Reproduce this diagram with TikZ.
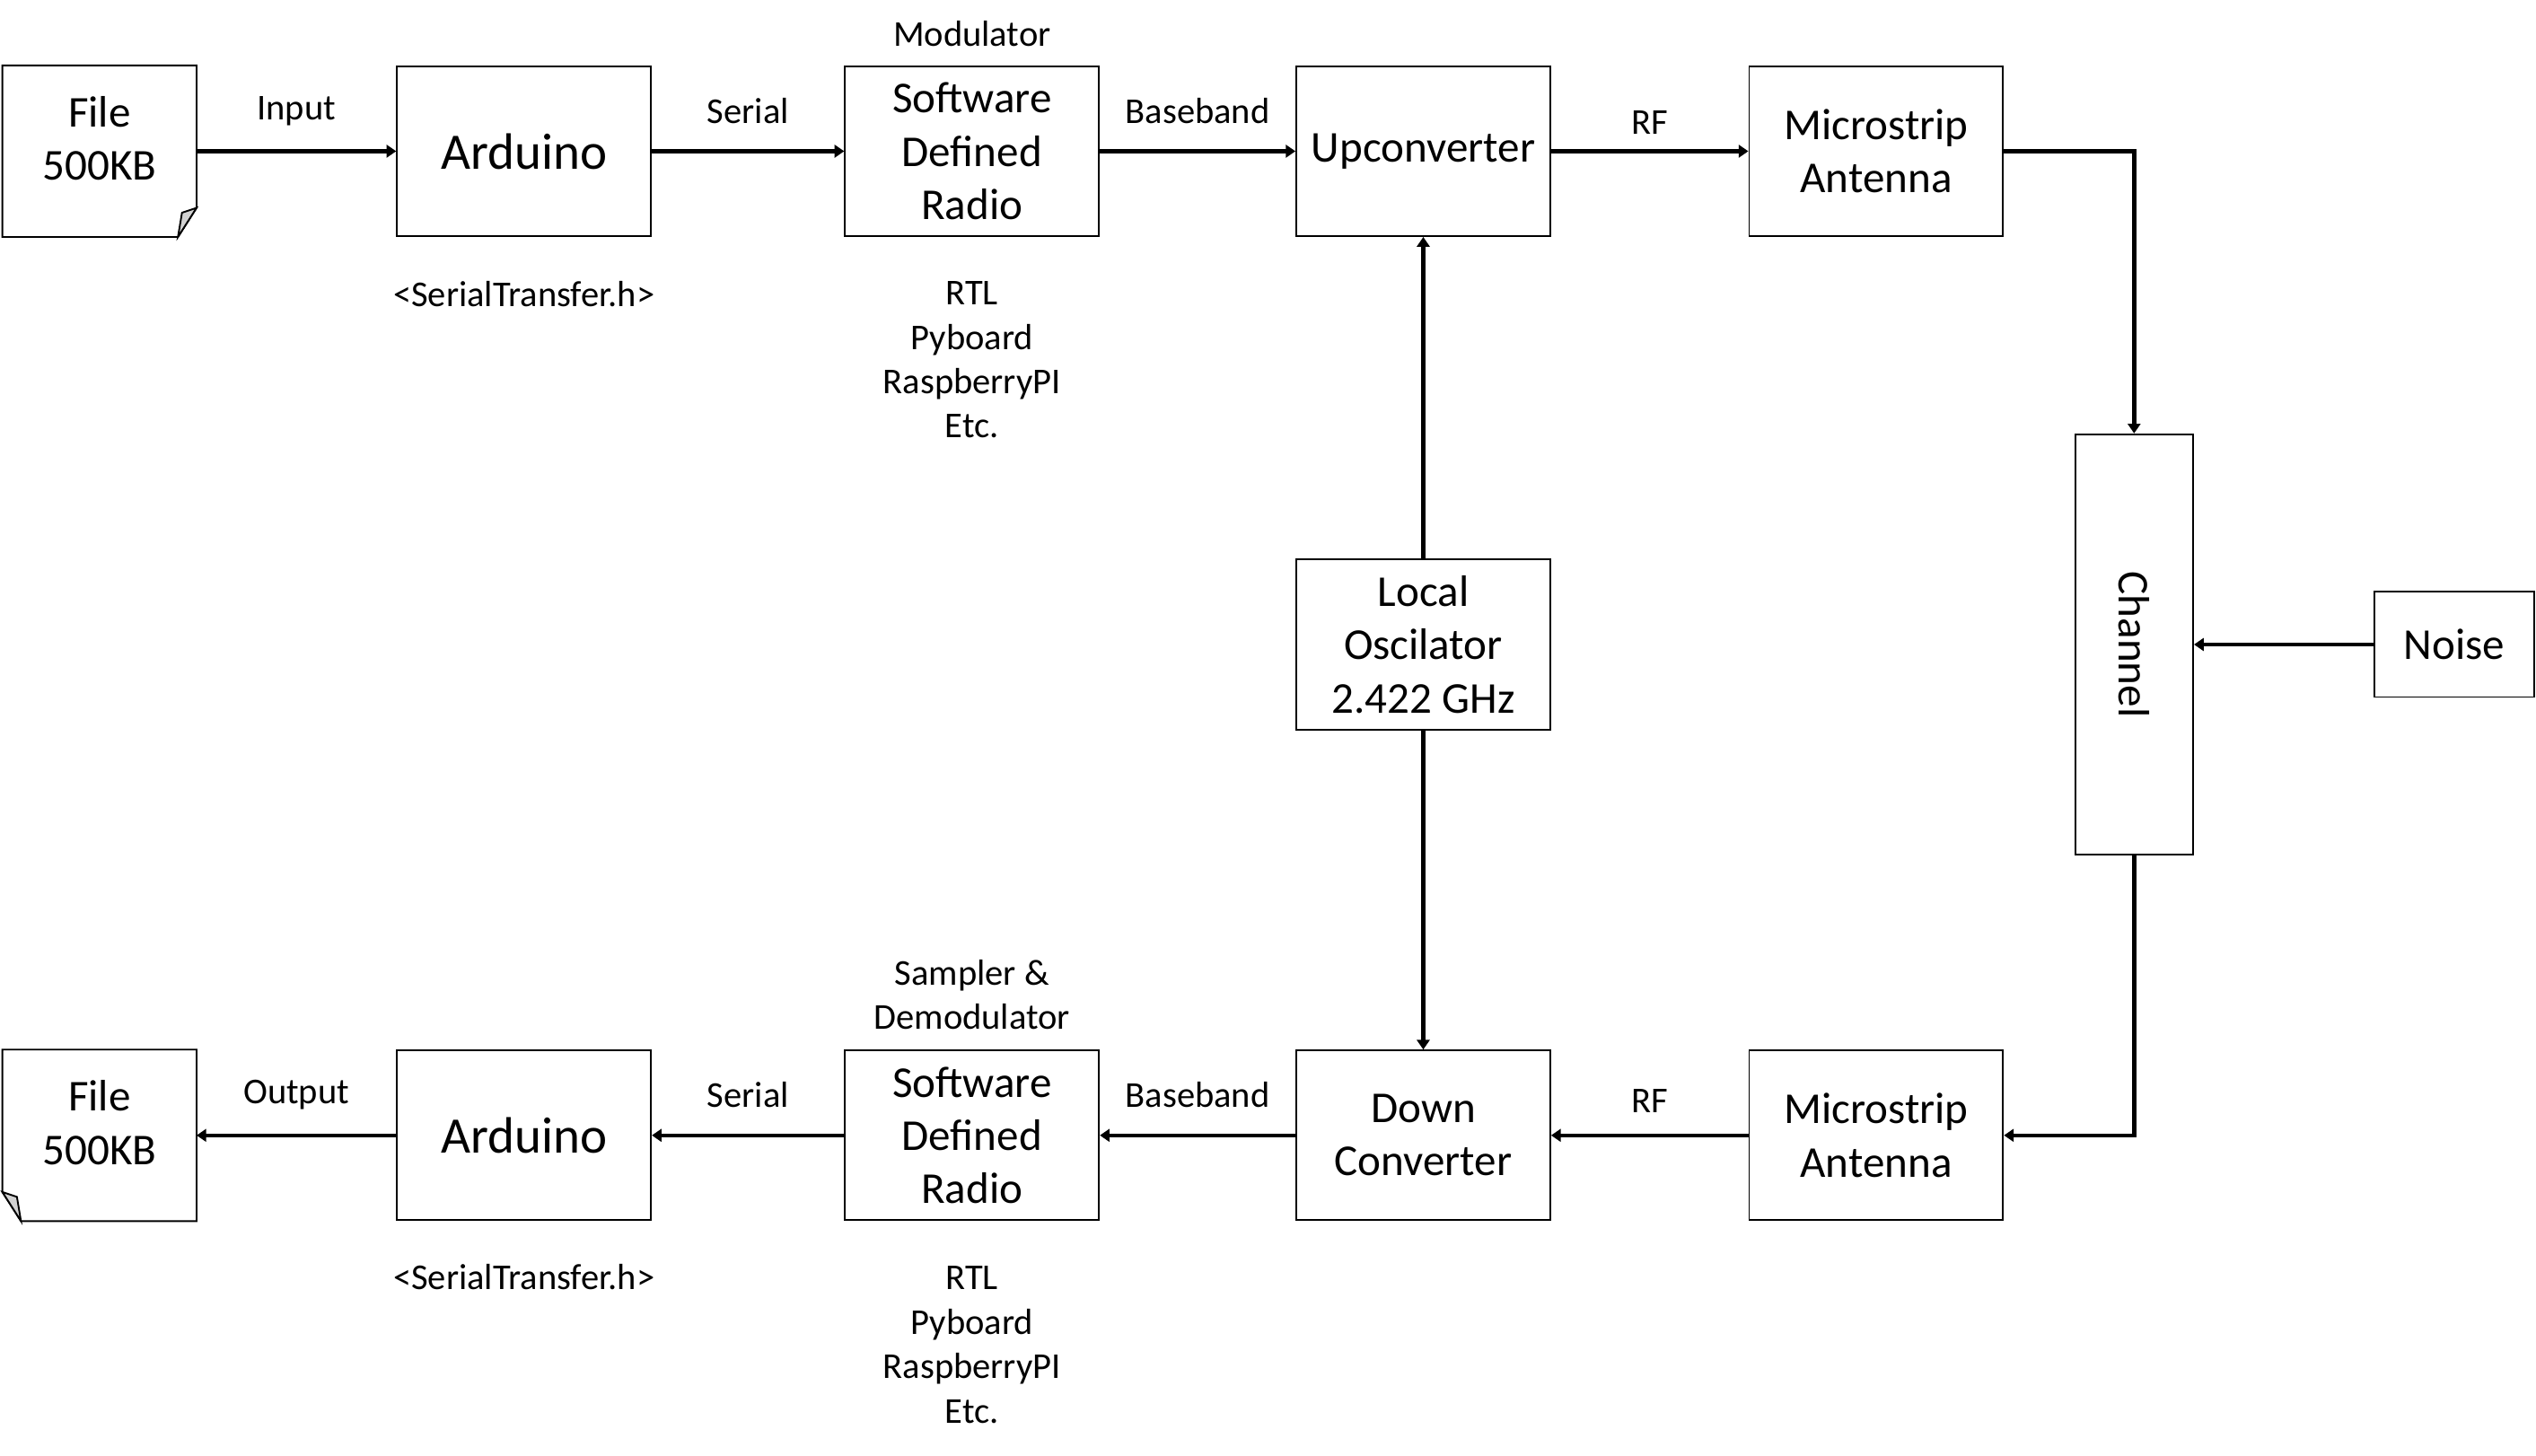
\documentclass[tikz,border=0pt]{standalone}
\usepackage{fontspec}
\setmainfont{Carlito}
\usetikzlibrary{positioning,arrows.meta}

\begin{document}
\begin{tikzpicture}[on grid,
   >={Triangle[length=3.4pt,width=4.4pt]},
   block/.style={draw,line width=0.6pt,minimum width=3.14cm,minimum height=2.1cm,
                 align=center,font=\fontsize{15.5}{18.7}\selectfont},
   big/.style={font=\fontsize{18}{21.6}\selectfont},
   doc/.style={block,draw=none,minimum width=2.38cm,text depth=0.32cm},
   lbl/.style={align=center,font=\fontsize{12.8}{15.6}\selectfont},
   above label/.style={lbl,yshift=0.5cm},
   wire/.style={line width=1.4pt}]
   \useasboundingbox (0,0) rectangle (31.36,-18);
   % transmitter chain
   \node[doc] (file) at (1.23,-1.87) {File\\500KB};
   \node[block,big] (ard) [right=5.25 of file] {Arduino};
   \node[block] (sdr) [right=5.54 of ard] {Software\\Defined\\Radio};
   \node[block] (up) [right=5.58 of sdr] {Upconverter};
   \node[block] (ant) [right=5.6 of up] {Microstrip\\Antenna};
   % oscillator and channel
   \node[block] (lo) [below=6.1 of up] {Local\\Oscilator\\2.422 GHz};
   \node[block,minimum width=1.46cm,minimum height=5.2cm] (chan) [right=8.79 of lo] {\rotatebox{-90}{Channel}};
   \node[block,minimum width=1.98cm,minimum height=1.3cm] (noise) [right=3.96 of chan] {Noise};
   % receiver chain
   \node[block] (down) [below=6.07 of lo] {Down\\Converter};
   \node[block] (ant2) [right=5.6 of down] {Microstrip\\Antenna};
   \node[block] (sdr2) [left=5.58 of down] {Software\\Defined\\Radio};
   \node[block,big] (ard2) [left=5.54 of sdr2] {Arduino};
   \node[doc] (file2) [left=5.25 of ard2] {File\\500KB};
   % notes
   \node[lbl] (mod) [above=1.45 of sdr] {Modulator};
   \node[lbl] (lib) [below=1.77 of ard] {<SerialTransfer.h>};
   \node[lbl] (boards) [below=2.58 of sdr] {RTL\\Pyboard\\RaspberryPI\\Etc.};
   \node[lbl] (demod) [above=1.74 of sdr2] {Sampler \&\\Demodulator};
   \node[lbl] (lib2) [below=1.75 of ard2] {<SerialTransfer.h>};
   \node[lbl] (boards2) [below=2.59 of sdr2] {RTL\\Pyboard\\RaspberryPI\\Etc.};
   % file outlines
   \draw[line width=0.6pt] (file.north west) -- (file.north east) -- ([yshift=0.36cm]file.south east)
      -- ([xshift=-0.23cm]file.south east) -- (file.south west) -- cycle;
   \draw[line width=0.6pt,fill=gray!35] ([yshift=0.36cm]file.south east) -- ([xshift=-0.18cm,yshift=0.3cm]file.south east)
      -- ([xshift=-0.23cm]file.south east) -- cycle;
   \draw[line width=0.6pt] (file2.north west) -- (file2.north east) -- (file2.south east)
      -- ([xshift=0.23cm]file2.south west) -- ([yshift=0.36cm]file2.south west) -- cycle;
   \draw[line width=0.6pt,fill=gray!35] ([yshift=0.36cm]file2.south west) -- ([xshift=0.18cm,yshift=0.3cm]file2.south west)
      -- ([xshift=0.23cm]file2.south west) -- cycle;
   % connectors
   \path[->,wire]
    (file) edge node[above label] {Input} (ard)
    (ard) edge node[above label] {Serial} (sdr)
    (sdr) edge node[above label] {Baseband} (up)
    (up) edge node[above label,yshift=-0.14cm] {RF} (ant)
    (lo) edge (up)
         edge (down)
    (noise) edge (chan)
    (ant2) edge node[above label,yshift=-0.08cm] {RF} (down)
    (down) edge node[above label] {Baseband} (sdr2)
    (sdr2) edge node[above label] {Serial} (ard2)
    (ard2) edge node[above label] {Output} (file2);
   \draw[->,wire] (ant) -| (chan);
   \draw[->,wire] (chan) |- (ant2);
\end{tikzpicture}
\end{document}
